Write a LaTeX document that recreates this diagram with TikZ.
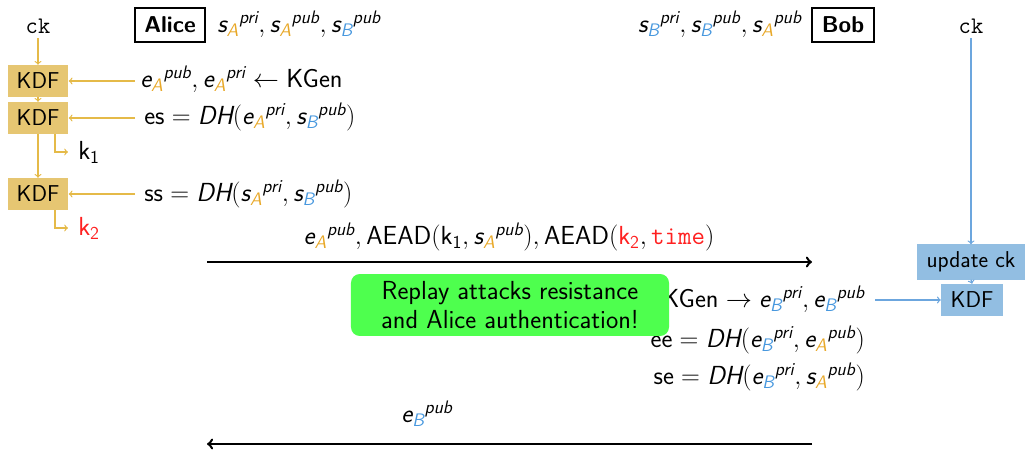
\documentclass[tikz,border=0pt]{standalone}
\usepackage{amsmath}
\usepackage{fontspec}
\usetikzlibrary{calc}

\definecolor{kdfgold}{RGB}{230,198,114}
\definecolor{arrgold}{RGB}{229,186,72}
\definecolor{agold}{RGB}{232,168,40}
\definecolor{kdfblue}{RGB}{146,190,226}
\definecolor{arrblue}{RGB}{108,166,222}
\definecolor{bblue}{RGB}{72,152,222}
\definecolor{okgreen}{RGB}{78,255,78}
\definecolor{keyred}{RGB}{255,32,32}

% italic sans letters inside math
\newcommand{\iv}[1]{\text{\itshape #1}}
% keys of Alice (gold index) and Bob (blue index)
\newcommand{\kA}[2]{{\iv{#1}_{\iv{\color{agold}A}}}^{\iv{#2}}}
\newcommand{\kB}[2]{{\iv{#1}_{\iv{\color{bblue}B}}}^{\iv{#2}}}

\begin{document}
\begin{tikzpicture}[x=0.794pt,y=-0.794pt,font=\sffamily\huge,
  boxfont/.style={font=\sffamily\fontsize{18.2}{21}\selectfont},
  kdfbox/.style={boxfont,fill=kdfgold,inner sep=0pt,minimum width=48.4pt,minimum height=25.4pt},
  bluebox/.style={boxfont,fill=kdfblue,inner sep=0pt,minimum height=27.8pt},
  party/.style={draw,line width=1.9pt,font=\sffamily\bfseries\fontsize{18.2}{21}\selectfont,
                inner sep=0pt,minimum height=27pt},
  garr/.style={draw=arrgold,line width=1pt,->},
  barr/.style={draw=arrblue,line width=1pt,->},
  msg/.style={draw=black,line width=2pt,->},
  txt/.style={inner sep=0pt},
  cktxt/.style={font=\ttfamily\fontsize{18.9}{22}\selectfont}]
\useasboundingbox (0,0) rectangle (1025,455);

% ---- header row
\node[cktxt] (cka) at (38,26) {ck};
\node[party,minimum width=55.6pt] (alice) at (170,25) {Alice};
\node[txt,anchor=base west] (akeys) at (217,33) {$\kA{s}{pri}, \kA{s}{pub}, \kB{s}{pub}$};
\node[txt,anchor=base east] (bkeys) at (802,33) {$\kB{s}{pri}, \kB{s}{pub}, \kA{s}{pub}$};
\node[party,minimum width=49.2pt] (bob) at (843,25) {Bob};
\node[cktxt] (ckb) at (971,26) {ck};

% ---- Alice's key derivation chain
\node[kdfbox] (kdf1) at (38,81) {KDF};
\node[kdfbox] (kdf2) at (38,118) {KDF};
\node[kdfbox] (kdf3) at (38,194) {KDF};

\node[txt,anchor=base west] (a1) at (140,88) {$\kA{e}{pub}, \kA{e}{pri} \leftarrow \text{KGen}$};
\node[txt,anchor=base west] (a2) at (144,125) {$\text{es} = \iv{DH}(\kA{e}{pri}, \kB{s}{pub})$};
\node[txt,anchor=base west] (a3) at (144,202) {$\text{ss} = \iv{DH}(\kA{s}{pri}, \kB{s}{pub})$};

\node[txt,anchor=west] (k1) at (78,152) {$\text{k}_{\text{1}}$};
\node[txt,anchor=west,text=keyred] (k2) at (78,228) {$\text{k}_{\text{2}}$};

\draw[garr] (cka.south) -- (kdf1.north);
\draw[garr] (kdf1.south) -- (kdf2.north);
\draw[garr] (kdf2.south) -- (kdf3.north);
\draw[garr,shorten <=4pt] (a1.west |- kdf1.east) -- (kdf1.east);
\draw[garr,shorten <=7pt] (a2.west |- kdf2.east) -- (kdf2.east);
\draw[garr,shorten <=7pt] (a3.west |- kdf3.east) -- (kdf3.east);
\draw[garr,shorten >=8pt] ([xshift=13.5pt]kdf2.south) |- (k1.west);
\draw[garr,shorten >=8pt] ([xshift=13.5pt]kdf3.south) |- (k2.west);

% ---- first message
\coordinate (m1s) at (207,262);
\coordinate (m1e) at (812,262);
\draw[msg] (m1s) -- (m1e);
\node[txt,anchor=base] (m1l) at (509,245)
  {$\kA{e}{pub}, \text{AEAD}(\text{k}_{\text{1}}, \kA{s}{pub}), \text{AEAD}({\color{keyred}\text{k}_{\text{2}}}, {\color{keyred}\text{\ttfamily time}})$};

% ---- Bob's side
\node[txt,anchor=base east] (b1) at (865,308) {$\text{KGen} \rightarrow \kB{e}{pri}, \kB{e}{pub}$};
\node[txt,anchor=base east] (b2) at (865,348) {$\text{ee} = \iv{DH}(\kB{e}{pri}, \kA{e}{pub})$};
\node[txt,anchor=base east] (b3) at (865,385) {$\text{se} = \iv{DH}(\kB{e}{pri}, \kA{s}{pub})$};

\node[bluebox,minimum width=85pt] (upd) at (971,262) {update ck};
\node[bluebox,minimum width=49.2pt,minimum height=25.4pt] (kdfb) at (972,300) {KDF};
\draw[barr] (ckb.south) -- (upd.north);
\draw[barr] (upd.south) -- (kdfb.north);
\draw[barr,shorten <=8pt] (b1.east |- kdfb.west) -- (kdfb.west);

% ---- remark
\node[fill=okgreen,rounded corners=7pt,align=center,inner sep=0pt,
      minimum width=252.5pt,minimum height=49.2pt] (note) at (510,305)
  {Replay attacks resistance\\[-1.5pt]and Alice authentication!};

% ---- reply
\coordinate (m2s) at (812,444);
\coordinate (m2e) at (207,444);
\draw[msg] (m2s) -- (m2e);
\node[txt,anchor=base] (m2l) at (427,423) {$\kB{e}{pub}$};
\end{tikzpicture}
\end{document}
